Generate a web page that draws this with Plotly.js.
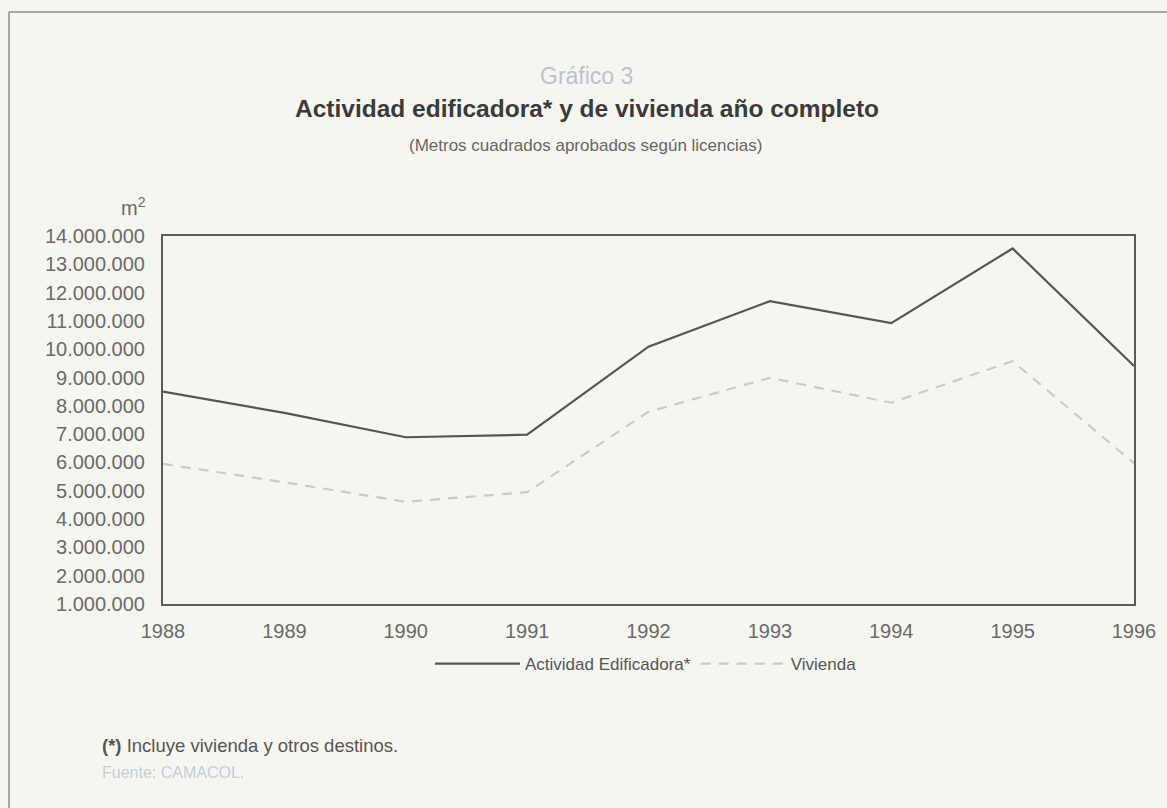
<!DOCTYPE html>
<html>
<head>
<meta charset="utf-8">
<script src="https://cdn.plot.ly/plotly-3.0.1.min.js"></script>
<style>
  html, body { margin: 0; padding: 0; background: #f6f6f1; }
  #chart { width: 1167px; height: 808px; }
</style>
</head>
<body>
<div id="chart"></div>
<script>
// ---- Data ----
const years = [1988, 1989, 1990, 1991, 1992, 1993, 1994, 1995, 1996];
const actividadEdificadora = [8500000, 7750000, 6890000, 6980000, 10090000, 11700000, 10920000, 13560000, 9410000];
const vivienda = [5950000, 5300000, 4610000, 4950000, 7790000, 8990000, 8110000, 9580000, 5970000];
const yTickValues = [1000000, 2000000, 3000000, 4000000, 5000000, 6000000, 7000000,
                     8000000, 9000000, 10000000, 11000000, 12000000, 13000000, 14000000];
const seriesNames = ['Actividad Edificadora*', 'Vivienda'];

// ---- Layout helpers (pixel -> paper) ----
const W = 1167, H = 808;
const L = 163, R = 1134, T = 236, B = 604;
const px = x => (x - L) / (R - L);
const py = y => (B - y) / (B - T);

const traces = [
  {
    x: years, y: actividadEdificadora, name: seriesNames[0],
    type: 'scatter', mode: 'lines',
    line: { color: '#555555', width: 2.2 },
    hoverinfo: 'x+y'
  },
  {
    x: years, y: vivienda, name: seriesNames[1],
    type: 'scatter', mode: 'lines',
    line: { color: '#c6cad2', width: 2.2, dash: '10px,8px' },
    hoverinfo: 'x+y'
  }
];

const baseFont = 'Liberation Sans, Arial, sans-serif';
const narrowFont = 'Liberation Sans Narrow, Liberation Sans, Arial, sans-serif';

const layout = {
  width: W, height: H,
  paper_bgcolor: '#f6f6f1',
  plot_bgcolor: '#f6f6f1',
  separators: ',.',
  margin: { l: L, r: W - R, t: T, b: H - B, pad: 0 },
  font: { family: baseFont, color: '#666666', size: 18 },
  xaxis: {
    range: [1988, 1996],
    tickmode: 'array', tickvals: years, ticktext: years.map(String),
    showgrid: false, zeroline: false,
    showline: true, mirror: true, linecolor: '#5a5a5a', linewidth: 2,
    ticks: 'outside', ticklen: 8, tickcolor: 'rgba(0,0,0,0)',
    tickfont: { family: baseFont, size: 20, color: '#6a6a6a' },
    fixedrange: true
  },
  yaxis: {
    range: [1000000, 14000000],
    tickmode: 'array', tickvals: yTickValues,
    tickformat: ',d',
    showgrid: false, zeroline: false,
    showline: true, mirror: true, linecolor: '#5a5a5a', linewidth: 2,
    ticks: 'outside', ticklen: 12, tickcolor: 'rgba(0,0,0,0)',
    tickfont: { family: baseFont, size: 20, color: '#6a6a6a' },
    fixedrange: true
  },
  showlegend: true,
  legend: {
    orientation: 'h',
    x: px(646), xanchor: 'center',
    y: py(664), yanchor: 'middle',
    bgcolor: 'rgba(0,0,0,0)',
    font: { family: baseFont, size: 17, color: '#555555' },
    itemwidth: 85,
    itemclick: false, itemdoubleclick: false
  },
  annotations: [
    { text: 'Gráfico 3', x: px(586), y: py(76), xref: 'paper', yref: 'paper',
      showarrow: false, xanchor: 'center', yanchor: 'middle',
      font: { family: narrowFont, size: 23, color: '#b9c3d0' } },
    { text: '<b>Actividad edificadora* y de vivienda año completo</b>', x: px(587), y: py(108),
      xref: 'paper', yref: 'paper', showarrow: false, xanchor: 'center', yanchor: 'middle',
      font: { family: baseFont, size: 24.5, color: '#3a3a3a' } },
    { text: '(Metros cuadrados aprobados según licencias)', x: px(585), y: py(145),
      xref: 'paper', yref: 'paper', showarrow: false, xanchor: 'center', yanchor: 'middle',
      font: { family: narrowFont, size: 17, color: '#666666' } },
    { text: 'm<sup>2</sup>', x: px(148), y: py(206), xref: 'paper', yref: 'paper',
      showarrow: false, xanchor: 'right', yanchor: 'middle',
      font: { family: baseFont, size: 20, color: '#6a6a6a' } },
    { text: '<b>(*)</b> Incluye vivienda y otros destinos.', x: px(100), y: py(745),
      xref: 'paper', yref: 'paper', showarrow: false, xanchor: 'left', yanchor: 'middle',
      font: { family: baseFont, size: 18.5, color: '#555555' } },
    { text: 'Fuente: CAMACOL.', x: px(100), y: py(772), xref: 'paper', yref: 'paper',
      showarrow: false, xanchor: 'left', yanchor: 'middle',
      font: { family: baseFont, size: 16, color: '#c3cdd9' } }
  ],
  shapes: [
    { type: 'line', xref: 'paper', yref: 'paper', x0: px(9), x1: px(W + 5), y0: py(12), y1: py(12),
      line: { color: '#8c8c8c', width: 1.5 } },
    { type: 'line', xref: 'paper', yref: 'paper', x0: px(9), x1: px(9), y0: py(12), y1: py(H + 5),
      line: { color: '#8c8c8c', width: 1.5 } }
  ]
};

Plotly.newPlot('chart', traces, layout, { displayModeBar: false, staticPlot: false });
</script>
</body>
</html>
